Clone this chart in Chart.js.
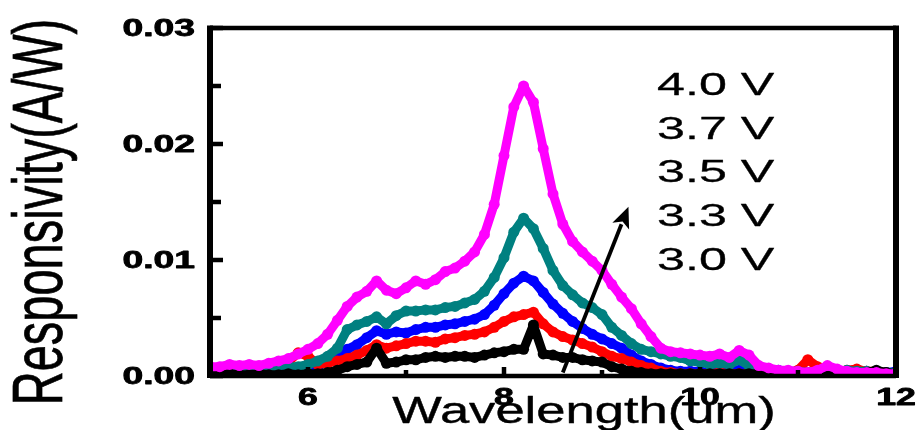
<!DOCTYPE html>
<html>
<head>
<meta charset="utf-8">
<script src="https://cdn.jsdelivr.net/npm/chart.js@4/dist/chart.umd.min.js"></script>
<style>
html,body{margin:0;padding:0;background:#ffffff;overflow:hidden;}
#wrap{width:917px;height:430px;}
canvas{display:block;}
</style>
</head>
<body>
<div id="wrap"><canvas id="c" width="917" height="430"></canvas></div>
<script>
// ---------------- DATA ----------------
const wavelength = [
  5.0,5.1,5.2,5.3,5.4,5.5,5.6,5.7,5.8,5.9,
  6.0,6.1,6.2,6.3,6.4,6.5,6.6,6.7,6.8,6.9,
  7.0,7.1,7.2,7.3,7.4,7.5,7.6,7.7,7.8,7.9,
  8.0,8.1,8.2,8.3,8.4,8.5,8.6,8.7,8.8,8.9,
  9.0,9.1,9.2,9.3,9.4,9.5,9.6,9.7,9.8,9.9,
  10.0,10.1,10.2,10.3,10.4,10.5,10.6,10.7,10.8,10.9,
  11.0,11.1,11.2,11.3,11.4,11.5,11.6,11.7,11.8,11.9,12.0
];
const resp40 = [
  0.0008,0.0008,0.0010,0.0009,0.0010,0.0009,0.0011,0.0013,0.0015,0.0019,
  0.0023,0.0028,0.0036,0.0048,0.0060,0.0068,0.0073,0.0082,0.0074,0.0071,
  0.0076,0.0082,0.0079,0.0083,0.0090,0.0093,0.0099,0.0107,0.0122,0.0148,
  0.0190,0.0232,0.0250,0.0236,0.0196,0.0157,0.0131,0.0116,0.0107,0.0099,
  0.0091,0.0079,0.0068,0.0058,0.0045,0.0034,0.0024,0.0021,0.0020,0.0019,
  0.0018,0.0017,0.0019,0.0016,0.0022,0.0018,0.0009,0.0007,0.0005,0.0005,
  0.0004,0.0003,0.0005,0.0009,0.0006,0.0004,0.0003,0.0003,0.0003,0.0002,0.0002
];
const resp37 = [
  0.0007,0.0006,0.0007,0.0006,0.0007,0.0006,0.0007,0.0007,0.0008,0.0008,
  0.0010,0.0013,0.0017,0.0024,0.0040,0.0044,0.0047,0.0051,0.0045,0.0052,
  0.0056,0.0056,0.0057,0.0057,0.0059,0.0060,0.0063,0.0066,0.0073,0.0085,
  0.0102,0.0124,0.0136,0.0127,0.0110,0.0091,0.0078,0.0070,0.0063,0.0059,
  0.0053,0.0042,0.0035,0.0028,0.0023,0.0021,0.0019,0.0017,0.0016,0.0013,
  0.0012,0.0010,0.0011,0.0010,0.0014,0.0009,0.0005,0.0004,0.0004,0.0003,
  0.0004,0.0003,0.0004,0.0003,0.0004,0.0005,0.0004,0.0004,0.0003,0.0003,0.0003
];
const resp35 = [
  0.0003,0.0003,0.0002,0.0003,0.0003,0.0002,0.0003,0.0003,0.0003,0.0004,
  0.0005,0.0008,0.0014,0.0019,0.0023,0.0027,0.0033,0.0039,0.0036,0.0038,
  0.0037,0.0040,0.0042,0.0042,0.0044,0.0045,0.0047,0.0049,0.0053,0.0061,
  0.0071,0.0080,0.0086,0.0082,0.0072,0.0062,0.0054,0.0047,0.0041,0.0036,
  0.0032,0.0028,0.0024,0.0018,0.0013,0.0010,0.0007,0.0005,0.0004,0.0004,
  0.0004,0.0003,0.0004,0.0004,0.0005,0.0004,0.0003,0.0004,0.0005,0.0004,
  0.0003,0.0003,0.0004,0.0003,0.0004,0.0003,0.0003,0.0004,0.0003,0.0003,0.0004
];
const resp33 = [
  0.0003,0.0002,0.0003,0.0005,0.0007,0.0008,0.0006,0.0007,0.0012,0.0020,
  0.0017,0.0010,0.0011,0.0013,0.0015,0.0018,0.0022,0.0027,0.0024,0.0026,
  0.0028,0.0030,0.0030,0.0029,0.0032,0.0033,0.0035,0.0036,0.0038,0.0042,
  0.0047,0.0051,0.0053,0.0055,0.0045,0.0038,0.0034,0.0031,0.0028,0.0025,
  0.0021,0.0017,0.0015,0.0012,0.0009,0.0007,0.0004,0.0003,0.0002,0.0002,
  0.0002,0.0002,0.0003,0.0002,0.0002,0.0002,0.0002,0.0003,0.0002,0.0003,
  0.0005,0.0014,0.0008,0.0003,0.0003,0.0005,0.0006,0.0004,0.0004,0.0003,0.0002
];
const resp30 = [
  0.0001,0.0001,0.0002,0.0001,0.0001,0.0002,0.0001,0.0001,0.0002,0.0001,
  0.0002,0.0002,0.0003,0.0005,0.0008,0.0010,0.0012,0.0024,0.0011,0.0012,
  0.0014,0.0014,0.0016,0.0017,0.0016,0.0017,0.0017,0.0016,0.0018,0.0020,
  0.0021,0.0023,0.0023,0.0044,0.0019,0.0018,0.0016,0.0016,0.0014,0.0013,
  0.0012,0.0008,0.0006,0.0004,0.0003,0.0002,0.0002,0.0002,0.0002,0.0002,
  0.0002,0.0002,0.0002,0.0002,0.0002,0.0002,0.0002,0.0002,0.0002,0.0002,
  0.0002,0.0002,0.0002,0.0002,0.0002,0.0002,0.0002,0.0003,0.0005,0.0003,0.0002
];
const legendLabels = ['4.0 V','3.7 V','3.5 V','3.3 V','3.0 V'];
const xTickValues = [6, 8, 10, 12];
const xTickLabels = ['6', '8', '10', '12'];
const xMinorTicks = [7, 9, 11];
const yTickValues = [0, 0.01, 0.02, 0.03];
const yTickLabels = ['0.00', '0.01', '0.02', '0.03'];
const yMinorTicks = [0.005, 0.015, 0.025];
const xTitle = 'Wavelength(um)';
const yTitle = 'Responsivity(A/W)';
// arrow annotation in data coordinates [wavelength, responsivity]
const arrowFrom = [8.6, 0.0003];
const arrowTo = [9.27, 0.0146];

// ---------------- CHART ----------------
const FONT = '"Liberation Sans", Arial, Helvetica, sans-serif';
const pts = arr => wavelength.map((w, i) => ({x: w, y: arr[i]}));

function ds(label, arr, color) {
  return {
    label, data: pts(arr),
    borderColor: color, backgroundColor: color,
    borderWidth: 9, pointRadius: 5.5, pointBorderWidth: 0,
    pointBackgroundColor: color, pointHoverRadius: 5.5,
    tension: 0, borderJoinStyle: 'round', borderCapStyle: 'round', fill: false
  };
}

function sText(ctx, text, x, y, size, weight, sx, align, stroke) {
  ctx.save();
  ctx.font = `${weight} ${size}px ${FONT}`;
  ctx.translate(x, y);
  ctx.scale(sx, 1);
  ctx.textAlign = align;
  ctx.textBaseline = 'alphabetic';
  ctx.fillStyle = '#000';
  ctx.fillText(text, 0, 0);
  if (stroke) {
    ctx.strokeStyle = '#000';
    ctx.lineWidth = stroke;
    ctx.lineJoin = 'round';
    ctx.strokeText(text, 0, 0);
  }
  ctx.restore();
}

const decor = {
  id: 'decor',
  afterDatasetsDraw(chart) {
    const ctx = chart.ctx;
    const a = chart.chartArea;
    const xs = chart.scales.x, ys = chart.scales.y;
    ctx.save();
    ctx.strokeStyle = '#000';
    ctx.lineCap = 'butt';
    // frame
    ctx.lineWidth = 6;
    ctx.beginPath();
    ctx.moveTo(a.left, a.top - 2.5); ctx.lineTo(a.left, a.bottom + 2);
    ctx.moveTo(a.right, a.top - 2.5); ctx.lineTo(a.right, a.bottom + 2);
    ctx.stroke();
    ctx.lineWidth = 4.5;
    ctx.beginPath();
    ctx.moveTo(a.left, a.top); ctx.lineTo(a.right, a.top);
    ctx.moveTo(a.left, a.bottom); ctx.lineTo(a.right, a.bottom);
    ctx.stroke();
    // y ticks (inward)
    ctx.lineWidth = 4.5;
    ctx.beginPath();
    yTickValues.concat(yMinorTicks).forEach(v => {
      const py = ys.getPixelForValue(v);
      const len = yMinorTicks.includes(v) ? 11 : 13;
      ctx.moveTo(a.left, py); ctx.lineTo(a.left + len, py);
    });
    ctx.stroke();
    // x ticks (inward)
    ctx.lineWidth = 4.5;
    ctx.beginPath();
    xTickValues.concat(xMinorTicks).forEach(v => {
      const px = xs.getPixelForValue(v);
      const len = xMinorTicks.includes(v) ? 6 : 9;
      ctx.moveTo(px, a.bottom); ctx.lineTo(px, a.bottom - len);
    });
    ctx.stroke();
    ctx.restore();

    // tick labels
    yTickValues.forEach((v, i) => {
      sText(ctx, yTickLabels[i], a.left - 15, ys.getPixelForValue(v) + 8, 23, 'bold', 1.62, 'right', 0.8);
    });
    xTickValues.forEach((v, i) => {
      sText(ctx, xTickLabels[i], xs.getPixelForValue(v), a.bottom + 29, 23, 'bold', 1.55, 'center', 0.8);
    });
    // axis titles
    sText(ctx, xTitle, (a.left + a.right) / 2 + 31, a.bottom + 47, 37, 'normal', 1.42, 'center', 0.4);
    ctx.save();
    ctx.translate(62, (a.top + a.bottom) / 2 + 10);
    ctx.rotate(-Math.PI / 2);
    ctx.scale(1, 1.49);
    ctx.font = `normal 47px ${FONT}`;
    ctx.textAlign = 'center';
    ctx.textBaseline = 'alphabetic';
    ctx.fillStyle = '#000';
    ctx.fillText(yTitle, 0, 0);
    ctx.strokeStyle = '#000';
    ctx.lineWidth = 0.5;
    ctx.strokeText(yTitle, 0, 0);
    ctx.restore();

    // voltage labels
    legendLabels.forEach((t, i) => {
      sText(ctx, t, a.left + 447, a.top + 67 + i * 43.7, 32, 'normal', 1.57, 'left', 0.3);
    });

    // arrow
    const x0 = xs.getPixelForValue(arrowFrom[0]), y0 = ys.getPixelForValue(arrowFrom[1]);
    const x1 = xs.getPixelForValue(arrowTo[0]), y1 = ys.getPixelForValue(arrowTo[1]);
    const ang = Math.atan2(y1 - y0, x1 - x0);
    const hl = 21, hw = 9;
    const bx = x1 - hl * Math.cos(ang), by = y1 - hl * Math.sin(ang);
    ctx.save();
    ctx.strokeStyle = '#000'; ctx.fillStyle = '#000';
    ctx.lineWidth = 3.8;
    ctx.beginPath(); ctx.moveTo(x0, y0); ctx.lineTo(bx + 2 * Math.cos(ang), by + 2 * Math.sin(ang)); ctx.stroke();
    ctx.beginPath();
    ctx.moveTo(x1, y1);
    ctx.lineTo(bx + hw * Math.sin(ang), by - hw * Math.cos(ang));
    ctx.lineTo(bx + 5 * Math.cos(ang), by + 5 * Math.sin(ang));
    ctx.lineTo(bx - hw * Math.sin(ang), by + hw * Math.cos(ang));
    ctx.closePath(); ctx.fill();
    ctx.restore();
  }
};

new Chart(document.getElementById('c'), {
  type: 'line',
  data: {
    datasets: [
      ds(legendLabels[0], resp40, '#ff00ff'),
      ds(legendLabels[4], resp30, '#000000'),
      ds(legendLabels[1], resp37, '#008080'),
      ds(legendLabels[3], resp33, '#ff0000'),
      ds(legendLabels[2], resp35, '#0000ff')
    ]
  },
  options: {
    responsive: false,
    animation: false,
    devicePixelRatio: 1,
    layout: {padding: {top: 28, right: 21, left: 0, bottom: 0}},
    plugins: {legend: {display: false}, tooltip: {enabled: false}},
    events: [],
    scales: {
      x: {
        type: 'linear', min: 5, max: 12,
        grid: {display: false, drawTicks: false},
        border: {display: false},
        ticks: {display: false},
        afterFit(s) { s.height = 54; }
      },
      y: {
        type: 'linear', min: 0, max: 0.03,
        grid: {display: false, drawTicks: false},
        border: {display: false},
        ticks: {display: false},
        afterFit(s) { s.width = 210; }
      }
    }
  },
  plugins: [decor]
});
</script>
</body>
</html>
